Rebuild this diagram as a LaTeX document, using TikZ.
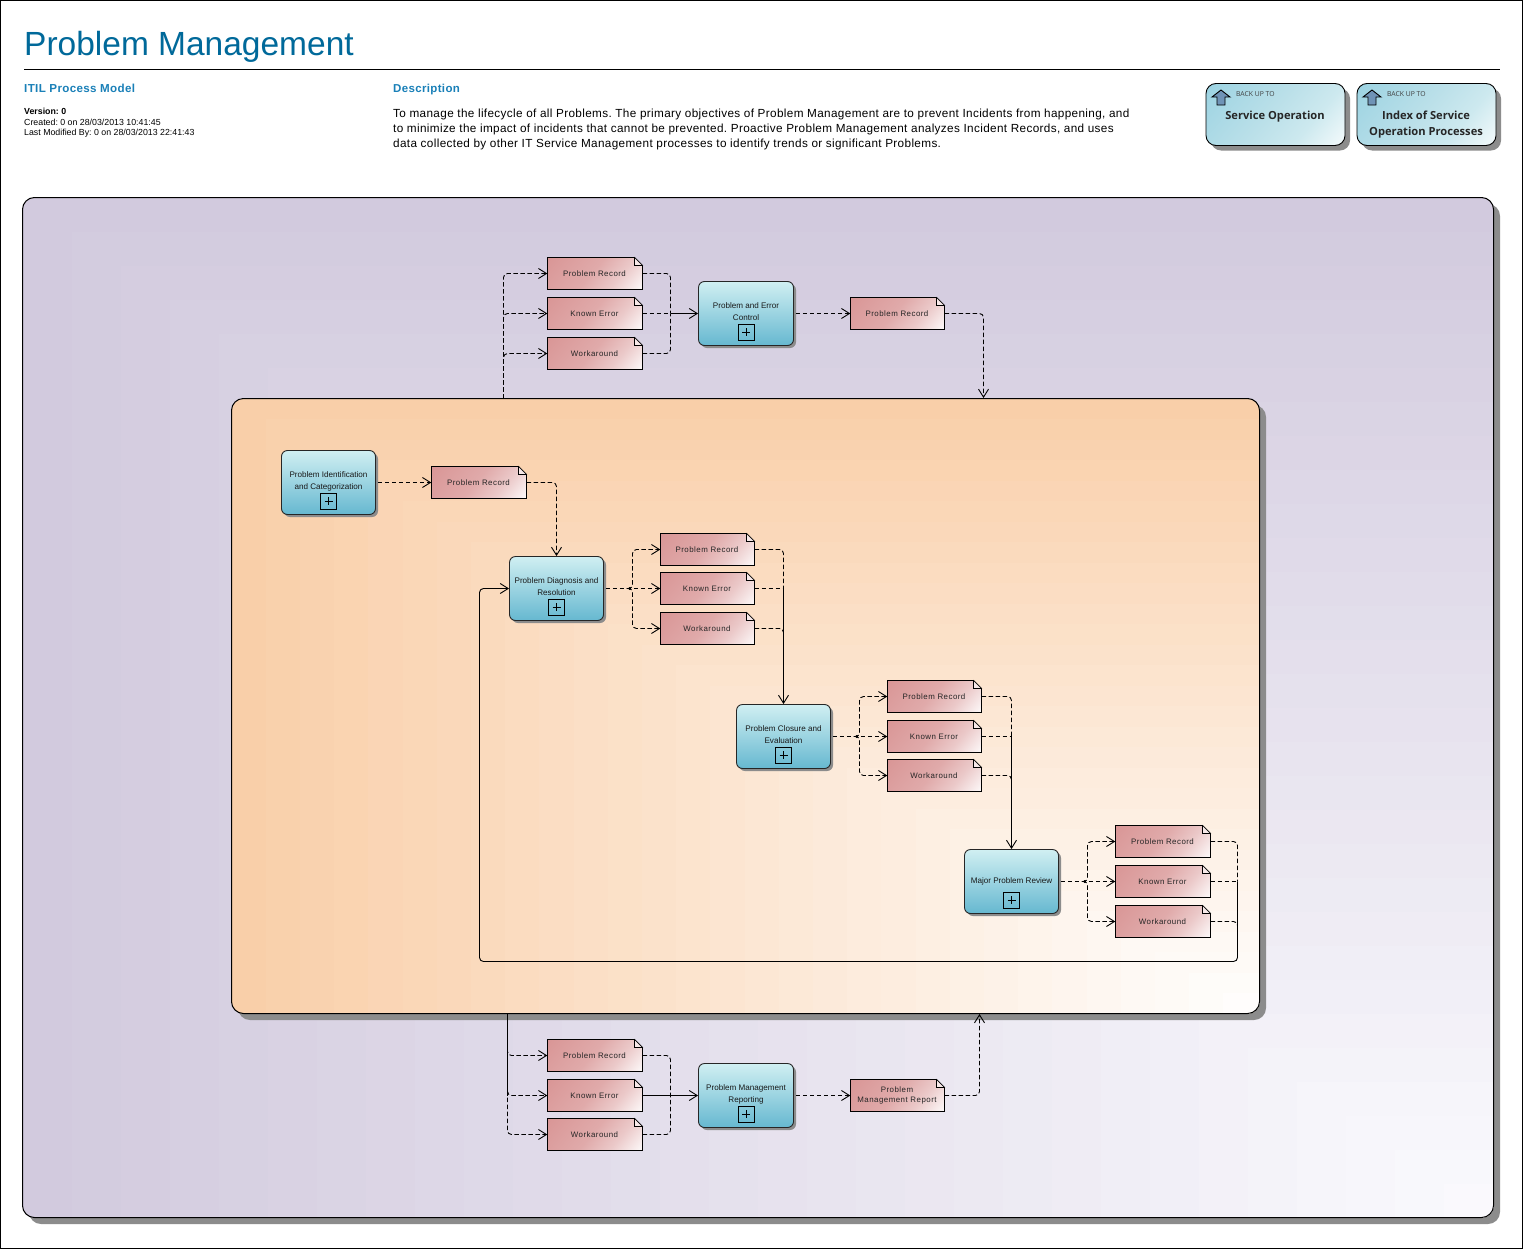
\documentclass[tikz,border=0pt]{standalone}
\usepackage{fontspec}
\setmainfont{Liberation Sans}
\newfontfamily\spacedfont[LetterSpace=3]{Liberation Sans}
\newfontfamily\notefont[LetterSpace=6]{Liberation Sans}
\newfontfamily\btnfont{Open Sans}
\usetikzlibrary{arrows.meta,shadows,calc}
\newcommand\fsz[1]{\fontsize{#1}{#1}\selectfont}
\definecolor{titleblue}{HTML}{00699A}
\definecolor{headblue}{HTML}{1A80B8}
\definecolor{outerA}{HTML}{D2CADE}
\definecolor{outerB}{HTML}{FBFBFE}
\definecolor{groupA}{HTML}{F9CFA9}
\definecolor{groupB}{HTML}{FFFFFF}
\definecolor{shadowgray}{HTML}{8C8C8C}
\definecolor{boxtop}{HTML}{D0EFF2}
\definecolor{boxbot}{HTML}{66B8D0}
\definecolor{noteA}{HTML}{D99696}
\definecolor{noteM}{HTML}{E0AAAA}
\definecolor{noteL}{HTML}{EBC9C9}
\definecolor{btnA}{HTML}{9CD3E2}
\definecolor{btnM}{HTML}{BBE0E9}
\definecolor{btnL}{HTML}{CDE9EF}
\definecolor{arrowblue}{HTML}{6F93B6}
\pgfdeclareverticalshading{notefill}{100bp}{color(0bp)=(white); color(13bp)=(white); color(34bp)=(noteL); color(52bp)=(noteM); color(85bp)=(noteA); color(100bp)=(noteA)}
\pgfdeclareverticalshading{btnfill}{100bp}{color(0bp)=(white); color(10bp)=(white); color(34bp)=(btnL); color(52bp)=(btnM); color(85bp)=(btnA); color(100bp)=(btnA)}
\tikzset{
  >={Straight Barb[length=8pt,width=10pt]},
  flow/.style={line width=0.9pt,black},
  dep/.style={flow,dash pattern=on 4.5pt off 2.5pt},
  rc/.style={rounded corners=4pt},
  procbox/.style={draw=black!85,line width=0.9pt,rounded corners=6pt,minimum height=64pt,
    inner sep=0pt,top color=boxtop,bottom color=boxbot,
    copy shadow={shadow xshift=2.5pt,shadow yshift=-2.5pt,fill=shadowgray,draw=none}},
  boxlabel/.style={inner sep=0pt,align=center,font=\fsz{8.1},text=black!90},
  plusbox/.style={draw=black,line width=0.9pt,minimum size=16pt,inner sep=0pt},
  notelabel/.style={inner sep=0pt,align=center,font=\notefont\fsz{7.9},text=black!85},
  btn/.style={draw=black,line width=0.9pt,rounded corners=10pt,minimum width=139pt,minimum height=62pt,inner sep=0pt,
    shading=btnfill,shading angle=50,
    copy shadow={shadow xshift=5pt,shadow yshift=-5pt,fill=shadowgray,draw=none}},
  btntitle/.style={inner sep=0pt,align=center,font=\btnfont\bfseries\fsz{11.15},text=black!85},
  btnsmall/.style={inner sep=0pt,anchor=west,font=\btnfont\fsz{6.8},text=black!75},
  headtext/.style={inner sep=0pt,anchor=base west},
  branchdot/.style={circle,fill=black,inner sep=0pt,minimum size=3pt},
}
% name, x1, x2, cy, text
\newcommand\notebox[5]{%
  \shade[shading=notefill,shading angle=50]
    (#2,{#4-16}) -- ({#3-8},{#4-16}) -- (#3,{#4-8}) -- (#3,{#4+16}) -- (#2,{#4+16}) -- cycle;
  \draw[line width=0.9pt,black] (#2,{#4-16}) -- ({#3-8},{#4-16}) -- (#3,{#4-8}) -- (#3,{#4+16}) -- (#2,{#4+16}) -- cycle;
  \filldraw[fill=white!60!noteL,line width=0.6pt,draw=black] ({#3-8},{#4-16}) -- ({#3-8},{#4-8}) -- (#3,{#4-8}) -- cycle;
  \node[notelabel,minimum width={(#3-#2)*1pt},minimum height=32pt] (#1) at ({(#2+#3)/2},#4) {\hspace{-1pt}#5};
}
% name, cx, cy, width, text, text dy
\newcommand\proc[6]{%
  \node[procbox,minimum width=#4pt] (#1) at (#2,#3) {};
  \node[boxlabel] (#1-t) at ($(#1.center)+(0,#6)$) {#5};
  \node[plusbox] (#1-p) at ($(#1.center)+(0,18.5)$) {};
  \draw[line width=0.9pt,black] ($(#1-p.center)+(-4,0)$) -- ($(#1-p.center)+(4,0)$)
     ($(#1-p.center)+(0,-4)$) -- ($(#1-p.center)+(0,4)$);
}
\begin{document}
\begin{tikzpicture}[x=1pt,y=-1pt]
\useasboundingbox (0,0) rectangle (1523,1250);
\fill[white] (0,0) rectangle (1523,1250);
\draw[black,line width=1pt] (0.5,0.5) rectangle (1522,1248);

% header
\frenchspacing
\node[headtext,text=titleblue,font=\fsz{33.5}] (title) at (24,55) {Problem Management};
\draw[black,line width=1pt] (24,69.5) -- (1500,69.5);
\node[headtext,text=headblue,font=\spacedfont\bfseries\fsz{11.6}] (model) at (24,92) {ITIL Process Model};
\node[headtext,text=headblue,font=\spacedfont\bfseries\fsz{11.5}] (desch) at (393,92) {Description};
\node[headtext,font=\bfseries\fsz{8.8}] (ver) at (24,114) {Version: 0};
\node[headtext,font=\fsz{8.8}] (cre) at (24,125) {Created: 0 on 28/03/2013 10:41:45};
\node[headtext,font=\fsz{8.8}] (mod) at (24,135.5) {Last Modified By: 0 on 28/03/2013 22:41:43};
\node[headtext,font=\spacedfont\fsz{11.75}] (d1) at (393,117) {To manage the lifecycle of all Problems. The primary objectives of Problem Management are to prevent Incidents from happening, and};
\node[headtext,font=\spacedfont\fsz{11.75}] (d2) at (393,132) {to minimize the impact of incidents that cannot be prevented. Proactive Problem Management analyzes Incident Records, and uses};
\node[headtext,font=\spacedfont\fsz{11.75}] (d3) at (393,147) {data collected by other IT Service Management processes to identify trends or significant Problems.};

% back-up buttons
\node[btn] (S) at (1275.5,114.5) {};
\node[btn] (I) at (1426.5,114.5) {};
\foreach \ox in {0,151}{
  \filldraw[fill=arrowblue,draw=black,line width=0.9pt,shift={(\ox,0)}]
    (1221,90) -- (1230,97) -- (1225,97) -- (1225,105) -- (1217,105) -- (1217,97) -- (1212,97) -- cycle;
}
\node[btnsmall] (Sb) at (1236,94) {BACK UP TO};
\node[btnsmall] (Ib) at (1387,94) {BACK UP TO};
\node[btntitle] (St) at (1275,116.5) {Service Operation};
\node[btntitle] (It) at (1426,124.5) {Index of Service\\[4.8pt]Operation Processes};

% outer frame
\fill[shadowgray,rounded corners=12pt] (29,204) rectangle (1500,1224);
\begin{scope}
  \clip[rounded corners=12pt] (22.5,197.5) rectangle (1493.5,1217.5);
  \foreach \i in {0,...,30}{
    \pgfmathsetmacro\p{100*\i/30}
    \fill[outerB!\p!outerA] ({22.5+\i*49},{197.5+\i*34}) rectangle (1493.5,1217.5);
  }
\end{scope}
\node[draw=black,line width=1pt,rounded corners=12pt,minimum width=1471pt,minimum height=1020pt,inner sep=0pt] (F) at (758,707.5) {};

% inner group
\fill[shadowgray,rounded corners=12pt] (238,405) rectangle (1266,1020);
\begin{scope}
  \clip[rounded corners=12pt] (231.5,398.5) rectangle (1259.5,1013.5);
  \foreach \i in {0,...,30}{
    \pgfmathsetmacro\p{100*\i/30}
    \fill[groupB!\p!groupA] ({231.5+\i*34.2},{398.5+\i*20.5}) rectangle (1259.5,1013.5);
  }
\end{scope}
\node[draw=black,line width=1pt,rounded corners=12pt,minimum width=1028pt,minimum height=615pt,inner sep=0pt] (G) at (745.5,706) {};

% processes
\proc{P}{746}{313.5}{95}{Problem and Error\\[4pt]Control}{-1.5}
\proc{A}{328.5}{482.5}{94}{Problem Identification\\[4pt]and Categorization}{-1.5}
\proc{B}{556.5}{588.5}{94}{Problem Diagnosis and\\[4pt]Resolution}{-1.5}
\proc{C}{783.5}{736.5}{94}{Problem Closure and\\[4pt]Evaluation}{-1.5}
\proc{D}{1011.5}{881.5}{94}{Major Problem Review}{0}
\proc{R}{746}{1095.5}{95}{Problem Management\\[4pt]Reporting}{-1.5}

% notes
\notebox{p1}{547.5}{642.5}{273.5}{Problem Record}
\notebox{p2}{547.5}{642.5}{313.5}{Known Error}
\notebox{p3}{547.5}{642.5}{353.5}{Workaround}
\notebox{po}{850.5}{944.5}{313.5}{Problem Record}
\notebox{ao}{431.5}{526.5}{482.5}{Problem Record}
\notebox{b1}{660.5}{754.5}{549.5}{Problem Record}
\notebox{b2}{660.5}{754.5}{588.5}{Known Error}
\notebox{b3}{660.5}{754.5}{628.5}{Workaround}
\notebox{c1}{887.5}{981.5}{696.5}{Problem Record}
\notebox{c2}{887.5}{981.5}{736.5}{Known Error}
\notebox{c3}{887.5}{981.5}{775.5}{Workaround}
\notebox{d1n}{1115.5}{1210.5}{841.5}{Problem Record}
\notebox{d2n}{1115.5}{1210.5}{881.5}{Known Error}
\notebox{d3n}{1115.5}{1210.5}{921.5}{Workaround}
\notebox{r1}{547.5}{642.5}{1055.5}{Problem Record}
\notebox{r2}{547.5}{642.5}{1095.5}{Known Error}
\notebox{r3}{547.5}{642.5}{1134.5}{Workaround}
\notebox{ro}{850.5}{944.5}{1095.5}{Problem\\[1.5pt]\hspace{-1pt}Management Report}

% named junctions
\coordinate (gtapT) at (503.5,398.5);
\coordinate (gtapB) at (507.5,1013.5);
\coordinate (pj) at (670.5,313.5);
\coordinate (rj) at (670.5,1095.5);
\coordinate (bj) at (629.5,588.5);
\coordinate (bv) at (632.5,588.5);
\coordinate (cj) at (856.5,736.5);
\coordinate (cv) at (859.5,736.5);
\coordinate (dj) at (1084.5,881.5);
\coordinate (dv) at (1087.5,881.5);
\coordinate (btr) at (783.5,588.5);
\coordinate (btr3) at (783.5,634);
\coordinate (ctr) at (1011.5,736.5);
\coordinate (ctr3) at (1011.5,781);
\coordinate (dtr) at (1237.5,881.5);
\coordinate (dtr3) at (1237.5,927);
\coordinate (loopA) at (1237.5,961.5);
\coordinate (loopB) at (479.5,961.5);
\coordinate (poe) at (983.5,398.5);
\coordinate (roe) at (979.5,1013.5);
\coordinate (rtrunk) at (507.5,1095.5);

% top section
\draw[dep,rc,->] (gtapT) |- (p1.west);
\draw[dep,rc,->] (gtapT) |- (p2.west);
\draw[dep,rc,->] (gtapT) |- (p3.west);
\draw[dep,rc] (p1.east) -| (pj);
\draw[dep] (p2.east) -- (pj);
\draw[dep,rc] (p3.east) -| (pj);
\draw[flow,->] (pj) -- (P.west);
\draw[dep,->,shorten <=2pt] (P.east) -- (po.west);
\draw[dep,rc,->] (po.east) -| (poe |- G.north);

% inside group
\draw[dep,->,shorten <=2pt] (A.east) -- (ao.west);
\draw[dep,rc,->] (ao.east) -| (B.north);
\draw[dep,->,shorten <=2pt] (B.east) -- (b2.west);
\node[branchdot] (bd) at (bj) {};
\draw[dep,rc,->] (bd.center) -- (bv) |- (b1.west);
\draw[dep,rc,->] (bd.center) -- (bv) |- (b3.west);
\draw[dep,rc] (b1.east) -| (btr);
\draw[dep] (b2.east) -- (btr);
\draw[dep,rc] (b3.east) -| (btr3);
\draw[flow,->] (btr) -- (C.north);

\draw[dep,->,shorten <=2pt] (C.east) -- (c2.west);
\node[branchdot] (cd) at (cj) {};
\draw[dep,rc,->] (cd.center) -- (cv) |- (c1.west);
\draw[dep,rc,->] (cd.center) -- (cv) |- (c3.west);
\draw[dep,rc] (c1.east) -| (ctr);
\draw[dep] (c2.east) -- (ctr);
\draw[dep,rc] (c3.east) -| (ctr3);
\draw[flow,->] (ctr) -- (D.north);

\draw[dep,->,shorten <=2pt] (D.east) -- (d2n.west);
\node[branchdot] (dd) at (dj) {};
\draw[dep,rc,->] (dd.center) -- (dv) |- (d1n.west);
\draw[dep,rc,->] (dd.center) -- (dv) |- (d3n.west);
\draw[dep,rc] (d1n.east) -| (dtr);
\draw[dep] (d2n.east) -- (dtr);
\draw[dep,rc] (d3n.east) -| (dtr3);
\draw[flow,rc,->] (dtr) -- (loopA) -- (loopB) |- (B.west);

% bottom section
\draw[flow] (gtapB) -- (rtrunk);
\draw[dep,rc,->] (gtapB) |- (r1.west);
\draw[dep,rc,->] (gtapB) |- (r2.west);
\draw[dep,rc,->] (gtapB) |- (r3.west);
\draw[dep,rc] (r1.east) -| (rj);
\draw[flow] (r2.east) -- (rj);
\draw[dep,rc] (r3.east) -| (rj);
\draw[flow,->] (rj) -- (R.west);
\draw[dep,->,shorten <=2pt] (R.east) -- (ro.west);
\draw[dep,rc,->] (ro.east) -| (roe |- G.south);
\end{tikzpicture}
\end{document}
